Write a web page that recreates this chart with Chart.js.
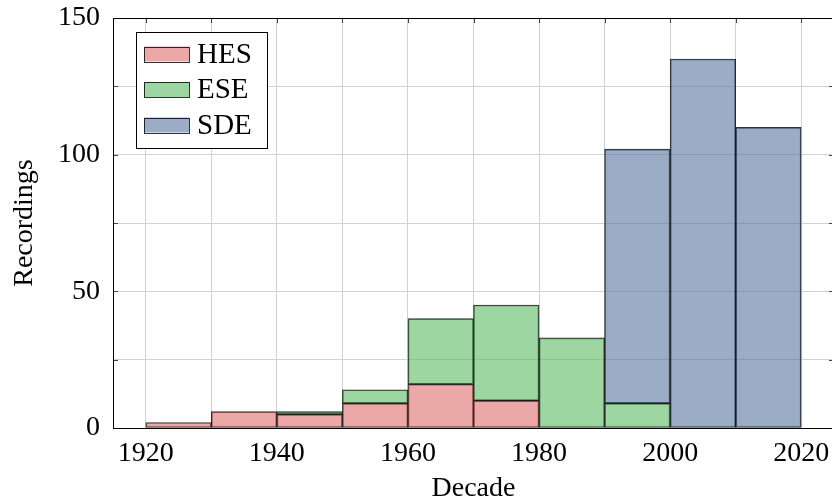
<!DOCTYPE html>
<html>
<head>
<meta charset="utf-8">
<script src="https://cdn.jsdelivr.net/npm/chart.js@4"></script>
<style>
  html, body { margin: 0; padding: 0; background: #fff; overflow: hidden; width: 832px; height: 501px; }
  #wrap { width: 840px; height: 501px; }
  canvas { display: block; }
</style>
</head>
<body>
<div id="wrap"><canvas id="chart" width="840" height="501"></canvas></div>
<script>
// Recordings per decade, stacked by collection
const decades = [1920, 1930, 1940, 1950, 1960, 1970, 1980, 1990, 2000, 2010];
const hes = [2, 6, 5, 9, 16, 10, null, null, null, null];
const ese = [null, null, 1, 5, 24, 35, 33, 9, null, null];
const sde = [null, null, null, null, null, null, null, 93, 135, 110];
const seriesNames = ['HES', 'ESE', 'SDE'];
const xTickValues = [1920, 1930, 1940, 1950, 1960, 1970, 1980, 1990, 2000, 2010, 2020];
const yTickValues = [0, 25, 50, 75, 100, 125, 150];

const FONT = 'Liberation Serif';
const fills = ['rgba(222,110,107,0.6)', 'rgba(92,187,97,0.6)', 'rgba(88,117,162,0.6)'];
const edge = 'rgba(0,0,0,0.8)';
const gridColor = '#d2d2d2';

// each bar covers its whole decade, so it sits at the decade's midpoint
const toBins = vals => decades.map((d, i) => ({ x: d + 5, y: vals[i] }));

const series = [hes, ese, sde];
const datasets = series.map((vals, k) => ({
  label: seriesNames[k],
  data: toBins(vals),
  backgroundColor: fills[k],
  borderColor: edge,
  borderWidth: 1,
  borderSkipped: false,
  barPercentage: 1,
  categoryPercentage: 1
}));

// frame, inward tick marks and the boxed legend
const decorations = {
  id: 'decorations',
  afterDatasetsDraw(chart) {
    const { ctx, chartArea: a, scales: { x, y } } = chart;
    ctx.save();
    ctx.strokeStyle = '#444';
    ctx.lineWidth = 1;
    ctx.beginPath();
    yTickValues.forEach(v => {
      const py = Math.round(y.getPixelForValue(v)) + 0.5;
      ctx.moveTo(a.left, py); ctx.lineTo(a.left + 5, py);
      ctx.moveTo(a.right, py); ctx.lineTo(a.right - 5, py);
    });
    xTickValues.forEach(v => {
      const px = Math.round(x.getPixelForValue(v)) + 0.5;
      ctx.moveTo(px, a.top); ctx.lineTo(px, a.top + 5);
    });
    ctx.stroke();
    ctx.strokeStyle = '#000';
    ctx.strokeRect(a.left + 0.5, a.top + 0.5, a.right - a.left - 1, a.bottom - a.top);
    ctx.restore();
  },
  afterDraw(chart) {
    const { ctx, chartArea: a } = chart;
    const bx = a.left + 23, by = a.top + 14, bw = 131, bh = 116;
    ctx.save();
    ctx.fillStyle = '#fff';
    ctx.fillRect(bx, by, bw, bh);
    ctx.strokeStyle = '#000';
    ctx.lineWidth = 1;
    ctx.strokeRect(bx + 0.5, by + 0.5, bw, bh);
    ctx.font = '29px "' + FONT + '"';
    ctx.textBaseline = 'middle';
    seriesNames.forEach((name, k) => {
      const cy = by + 22 + k * 35.5;
      ctx.fillStyle = fills[k];
      ctx.fillRect(bx + 8, cy - 7.5, 45, 15);
      ctx.strokeStyle = edge;
      ctx.strokeRect(bx + 8.5, Math.round(cy - 7.5) + 0.5, 45, 15);
      ctx.fillStyle = '#000';
      ctx.fillText(name, bx + 61, cy + 1);
    });
    ctx.restore();
  }
};

new Chart(document.getElementById('chart'), {
  type: 'bar',
  data: { datasets },
  options: {
    responsive: false,
    animation: false,
    devicePixelRatio: 1,
    layout: { padding: { top: 18, right: 6, bottom: 0, left: 0 } },
    plugins: { legend: { display: false }, tooltip: { enabled: false } },
    scales: {
      x: {
        type: 'linear',
        stacked: true,
        min: 1915,
        max: 2025,
        offset: false,
        afterBuildTicks: s => { s.ticks = xTickValues.map(v => ({ value: v })); },
        afterFit: s => { s.height = 73; s.paddingLeft = 0; s.paddingRight = 0; },
        ticks: {
          autoSkip: false,
          maxRotation: 0,
          padding: 9,
          color: '#000',
          font: { family: FONT, size: 28 },
          callback: v => (v % 20 === 0 ? String(v) : '')
        },
        grid: { color: gridColor, lineWidth: 1, drawTicks: false, offset: false },
        border: { color: '#000', width: 1 },
        title: {
          display: true,
          text: 'Decade',
          color: '#000',
          font: { family: FONT, size: 28, lineHeight: 0.85 },
          padding: { top: 0, bottom: 0 }
        }
      },
      y: {
        stacked: true,
        min: 0,
        max: 150,
        afterBuildTicks: s => { s.ticks = yTickValues.map(v => ({ value: v })); },
        afterFit: s => { s.width = 113; s.paddingTop = 0; s.paddingBottom = 0; },
        ticks: {
          padding: 13,
          color: '#000',
          font: { family: FONT, size: 28 },
          callback: v => (v % 50 === 0 ? String(v) : '')
        },
        grid: { color: gridColor, lineWidth: 1, drawTicks: false },
        border: { color: '#000', width: 1 },
        title: {
          display: true,
          text: 'Recordings',
          color: '#000',
          font: { family: FONT, size: 28, lineHeight: 1 },
          padding: { top: 11, bottom: 0 }
        }
      }
    }
  },
  plugins: [decorations]
});
</script>
</body>
</html>
